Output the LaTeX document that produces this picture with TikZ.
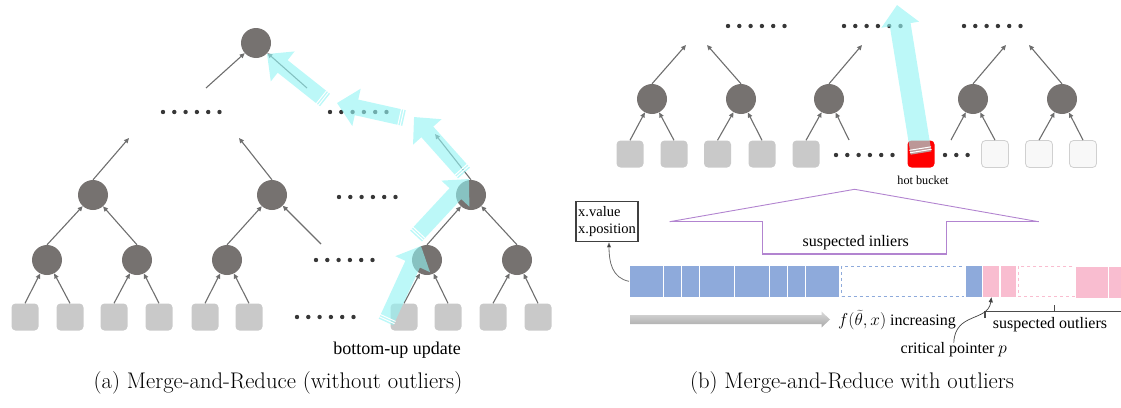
\documentclass[tikz,border=0pt]{standalone}
\usepackage{fontspec}
\newfontfamily\tnr{Liberation Serif}
\usetikzlibrary{arrows.meta, positioning}

\definecolor{nodegray}{RGB}{118,114,112}
\definecolor{leafgray}{RGB}{201,201,201}
\definecolor{leaflight}{RGB}{248,248,248}
\definecolor{leafedge}{RGB}{208,208,208}
\definecolor{hotcyan}{RGB}{147,244,244}
\definecolor{dotgray}{RGB}{55,55,55}
\definecolor{cellblue}{RGB}{142,170,219}
\definecolor{cellpink}{RGB}{249,189,208}
\definecolor{linepurple}{RGB}{178,132,208}
\definecolor{arrowgray}{RGB}{110,110,110}

% a row of dots: x of first dot, y, number of dots
\newcommand{\dotrow}[3]{\foreach \k in {1,...,#3} \fill[dotgray] (#1+11.3*\k-11.3,#2) circle (2.2pt);}

\tikzset{
  inner/.style={circle, fill=nodegray, minimum size=30pt, inner sep=0pt},
  bucket/.style={rectangle, rounded corners=4pt, fill=leafgray, minimum size=27pt, inner sep=0pt},
  bucketlight/.style={bucket, fill=leaflight, draw=leafedge, line width=0.8pt},
  bucketred/.style={bucket, fill=red},
  tree/.style={draw=arrowgray, line width=1.1pt, -{Triangle[length=5pt,width=4.5pt]}},
  hot/.style={draw=hotcyan, line width=16pt, -{Triangle[length=20pt,width=37pt]}},
  hotcut/.style={draw=white, line width=17pt, dash pattern=on 0pt off 1.5pt on 1pt off 1.5pt on 1pt off 2000pt},
  cell/.style={rectangle, fill=cellblue, draw=white, line width=1.2pt, minimum height=32pt, inner sep=0pt, outer sep=0pt},
  pinkcell/.style={cell, fill=cellpink},
  emptycell/.style={cell, fill=white, dashed, line width=0.9pt, minimum height=30pt},
  lbl/.style={font=\tnr\fontsize{16}{18}\selectfont, inner sep=0pt},
  subcap/.style={font=\fontsize{22.6}{26}\selectfont, inner sep=0pt}
}

\begin{document}
\begin{tikzpicture}[x=1pt, y=-1pt, every node/.style={font=\tnr}]
  \useasboundingbox (0,0) rectangle (1121,407);

  % (a) Top of the tree
  \node[inner] (root) at (256,43) {};
  \dotrow{163}{112}{6}
  \dotrow{330}{112}{6}
  \coordinate (upL) at (206,88);
  \coordinate (upR) at (307,88);
  \draw[tree] (upL) -- (root);
  \draw[tree] (upR) -- (root);

  % Second level
  \node[inner] (a1) at (93,195) {};
  \node[inner] (a2) at (272,195) {};
  \node[inner] (a3) at (471,195) {};
  \dotrow{339}{197}{6}
  \coordinate (a1up) at (129,138);
  \coordinate (a2up) at (239,138);
  \coordinate (a3up) at (435,134);
  \draw[tree] (a1.north) -- (a1up);
  \draw[tree] (a2.north) -- (a2up);
  \draw[tree] (a3.north) -- (a3up);

  % Third level
  \node[inner] (b1) at (47,260) {};
  \node[inner] (b2) at (137,260) {};
  \node[inner] (b3) at (227,260) {};
  \node[inner] (b4) at (427,260) {};
  \node[inner] (b5) at (517,260) {};
  \dotrow{316}{260}{6}
  \coordinate (b3r) at (321,244);
  \draw[tree] (b1.north) -- (a1);
  \draw[tree] (b2.north) -- (a1);
  \draw[tree] (b3.north) -- (a2);
  \draw[tree] (b3r) -- (a2);
  \draw[tree] (b4.north) -- (a3);
  \draw[tree] (b5.north) -- (a3);

  % Buckets
  \node[bucket] (l1) at (25,317) {};
  \node[bucket] (l2) at (70,317) {};
  \node[bucket] (l3) at (114,317) {};
  \node[bucket] (l4) at (159,317) {};
  \node[bucket] (l5) at (205,317) {};
  \node[bucket] (l6) at (249,317) {};
  \node[bucket] (l7) at (404,317) {};
  \node[bucket] (l8) at (448,317) {};
  \node[bucket] (l9) at (493,317) {};
  \node[bucket] (l10) at (538,317) {};
  \dotrow{297}{317}{6}
  \draw[tree] (l1.north) -- (b1);
  \draw[tree] (l2.north) -- (b1);
  \draw[tree] (l3.north) -- (b2);
  \draw[tree] (l4.north) -- (b2);
  \draw[tree] (l5.north) -- (b3);
  \draw[tree] (l6.north) -- (b3);
  \draw[tree] (l7.north) -- (b4);
  \draw[tree] (l8.north) -- (b4);
  \draw[tree] (l9.north) -- (b5);
  \draw[tree] (l10.north) -- (b5);

  \node[font=\tnr\fontsize{18}{20}\selectfont, inner sep=0pt] (upd) at (397,350) {bottom-up update};

  % Update path
  \coordinate (hA0) at (386,322); \coordinate (hA1) at (421,246);
  \coordinate (hB0) at (416,236); \coordinate (hB1) at (469,179);
  \coordinate (hC0) at (464,173); \coordinate (hC1) at (414,117);
  \coordinate (hD0) at (404,118); \coordinate (hD1) at (337,103);
  \coordinate (hE0) at (325,100); \coordinate (hE1) at (267,54);
  \begin{scope}[transparency group, opacity=0.62]
    \draw[hot] (hA0) -- (hA1);
    \draw[hot] (hB0) -- (hB1);
    \draw[hot] (hC0) -- (hC1);
    \draw[hot] (hD0) -- (hD1);
    \draw[hot] (hE0) -- (hE1);
  \end{scope}
  \draw[hotcut] (hA0) -- (hA1);
  \draw[hotcut] (hB0) -- (hB1);
  \draw[hotcut] (hC0) -- (hC1);
  \draw[hotcut] (hD0) -- (hD1);
  \draw[hotcut] (hE0) -- (hE1);

  % (b) Tree with a hot bucket
  \dotrow{728}{26}{6}
  \dotrow{844}{26}{6}
  \dotrow{964}{26}{6}
  \node[inner] (c1) at (652,99) {};
  \node[inner] (c2) at (741,99) {};
  \node[inner] (c3) at (829,99) {};
  \node[inner] (c4) at (973,99) {};
  \node[inner] (c5) at (1062,99) {};
  \coordinate (c1up) at (686,45);
  \coordinate (c2up) at (707,45);
  \coordinate (c3up) at (862,45);
  \coordinate (c4up) at (1006,45);
  \coordinate (c5up) at (1029,45);
  \draw[tree] (c1.north) -- (c1up);
  \draw[tree] (c2.north) -- (c2up);
  \draw[tree] (c3.north) -- (c3up);
  \draw[tree] (c4.north) -- (c4up);
  \draw[tree] (c5.north) -- (c5up);

  \node[bucket] (m1) at (630,154) {};
  \node[bucket] (m2) at (674,154) {};
  \node[bucket] (m3) at (717.5,154) {};
  \node[bucket] (m4) at (762,154) {};
  \node[bucket] (m5) at (806,154) {};
  \node[bucketred] (hot) at (921,154) {};
  \node[bucketlight] (m6) at (995,154) {};
  \node[bucketlight] (m7) at (1039,154) {};
  \node[bucketlight] (m8) at (1083,154) {};
  \dotrow{836}{155}{6}
  \dotrow{945}{155}{3}
  \coordinate (c3r) at (849,140);
  \coordinate (c4l) at (951,140);
  \draw[tree] (m1.north) -- (c1);
  \draw[tree] (m2.north) -- (c1);
  \draw[tree] (m3.north) -- (c2);
  \draw[tree] (m4.north) -- (c2);
  \draw[tree] (m5.north) -- (c3);
  \draw[tree] (c3r) -- (c3);
  \draw[tree] (c4l) -- (c4);
  \draw[tree] (m6.north) -- (c4);
  \draw[tree] (m7.north) -- (c5);
  \draw[tree] (m8.north) -- (c5);
  \node[font=\tnr\fontsize{12.2}{14}\selectfont, inner sep=0pt] (hotlbl) at (923,180) {hot bucket};

  \coordinate (hF0) at (921,153); \coordinate (hF1) at (897,5);
  \begin{scope}[transparency group, opacity=0.62]
    \draw[hot, line width=21pt] (hF0) -- (hF1);
  \end{scope}
  \draw[hotcut, line width=22pt] (hF0) -- (hF1);

  % Bucket content
  \draw[linepurple, line width=0.9pt] (669.6,221.7) -- (854.6,189.3) -- (1038.6,221.7);
  \draw[linepurple, line width=1.3pt] (669.6,221.7) -- (762.5,221.7) -- (762.5,254)
    -- (946.8,254) -- (946.8,221.7) -- (1038.6,221.7);
  \node[lbl] (inl) at (855.7,243) {suspected inliers};

  \node[cell, minimum width=34.5pt] (q1) at (646.25,281.3) {};
  \node[cell, minimum width=17.8pt, right=0pt of q1] (q2) {};
  \node[cell, minimum width=18pt, right=0pt of q2] (q3) {};
  \node[cell, minimum width=35pt, right=0pt of q3] (q4) {};
  \node[cell, minimum width=35pt, right=0pt of q4] (q5) {};
  \node[cell, minimum width=18pt, right=0pt of q5] (q6) {};
  \node[cell, minimum width=18.4pt, right=0pt of q6] (q7) {};
  \node[cell, minimum width=34.3pt, right=0pt of q7] (q8) {};
  \node[emptycell, draw=cellblue, minimum width=123pt, right=1.5pt of q8] (e1) {};
  \node[cell, minimum width=17.8pt, right=0.5pt of e1] (q9) {};
  \node[pinkcell, minimum width=17.2pt, right=0pt of q9] (p1) {};
  \node[pinkcell, minimum width=17pt, right=0pt of p1] (p2) {};
  \node[emptycell, draw=cellpink, minimum width=57.2pt, right=1pt of p2] (e2) {};
  \node[pinkcell, minimum width=33pt, right=0.3pt of e2, yshift=-0.8pt] (p3) {};
  \node[pinkcell, minimum width=20pt, right=0pt of p3] (p4) {};

  \node[draw=black!75, line width=1.2pt, align=left, minimum width=62pt, minimum height=40pt,
    inner sep=2pt, font=\tnr\fontsize{14.5}{17.5}\selectfont] (xbox) at (607,221.7) {x.value\\x.position};
  \draw[draw=arrowgray, line width=0.8pt, -{Triangle[length=5pt,width=4pt]}, -{Triangle[length=5pt,width=4pt,fill=black]}]
    (q1.west) .. controls (612,278) and (609,262) .. ([xshift=2pt]xbox.south);

  % Order of f and the outliers
  \shade[top color=gray!30, bottom color=gray!68] (630,315) -- (821.7,315) -- (821.7,311.7)
    -- (830,319.5) -- (821.7,327.3) -- (821.7,324) -- (630,324) -- cycle;
  \node[lbl, anchor=west] (incr) at (838,320) {$f(\widetilde{\theta},x)$ increasing};
  \node[lbl] (outl) at (1050,325) {suspected outliers};
  \coordinate (brL) at (985,318);
  \coordinate (brC) at (1054.6,311.7);
  \draw[black!70, line width=1.5pt] (brL) -- (985,311.7) -- (1125,311.7);
  \draw[black!70, line width=1.5pt] (brC) -- (1054.6,305);
  \node[lbl] (crit) at (953.8,350) {critical pointer $p$};
  \draw[black!75, line width=0.7pt, -{Triangle[length=5pt,width=4pt]}]
    (crit.north) .. controls (955,312) and (988,322) .. (p1.south);

  % Captions
  \node[subcap] (capa) at (278,383) {(a) Merge-and-Reduce (without outliers)};
  \node[subcap] (capb) at (852,383) {(b) Merge-and-Reduce with outliers};
\end{tikzpicture}
\end{document}
